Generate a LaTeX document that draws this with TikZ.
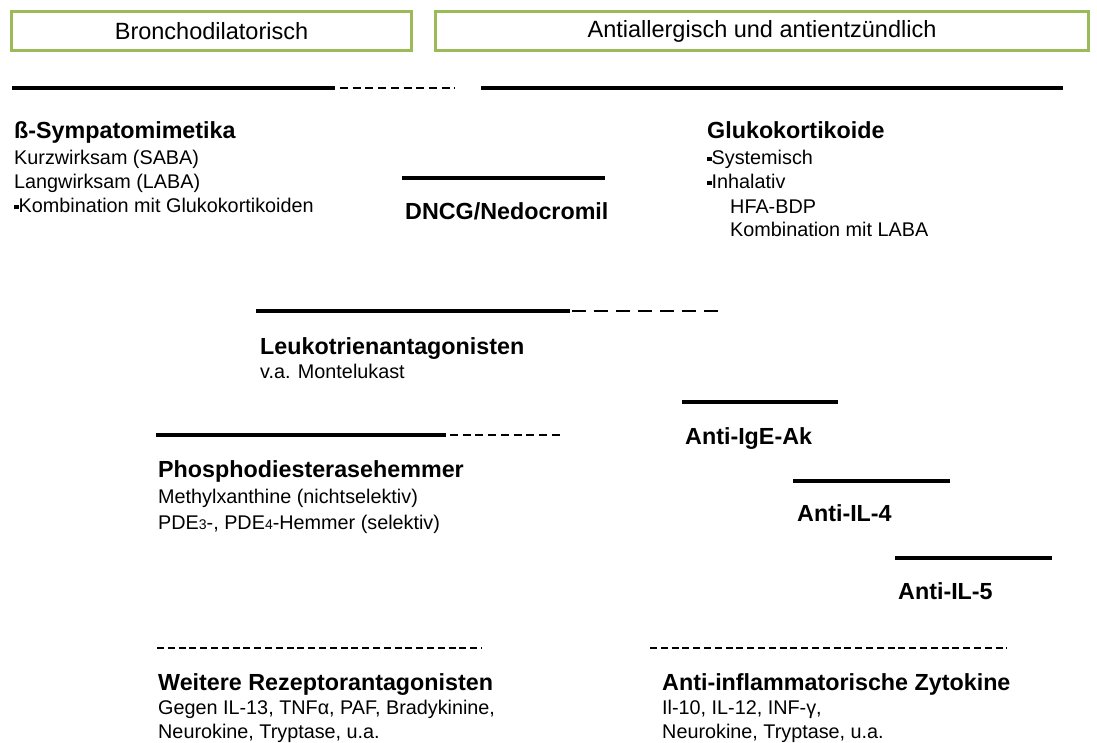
\documentclass[tikz,border=0pt]{standalone}
\usepackage{fontspec}
\setmainfont{Liberation Sans}
\definecolor{boxgreen}{HTML}{9BBB59}
\newcommand{\sqbullet}{\raisebox{3.5pt}{\rule{4.5pt}{4.5pt}}}
\newcommand{\smalldigit}[1]{{\fontsize{14}{14}\selectfont #1}}

\begin{document}
\begin{tikzpicture}[x=1pt,y=-1pt,
    group/.style={draw=boxgreen,line width=3pt,inner sep=0pt,font=\fontsize{23.5}{27}\selectfont},
    head/.style={anchor=base west,inner sep=0pt,font=\fontsize{23.3}{27}\selectfont\bfseries},
    info/.style={anchor=base west,inner sep=0pt,align=left,font=\fontsize{19.8}{24}\selectfont},
    bar/.style={line width=4.5pt},
    shortdash/.style={line width=1.5pt,dash pattern=on 8pt off 4.7pt},
    longdash/.style={line width=1.5pt,dash pattern=on 14pt off 8pt},
    hyphens/.style={line width=2.5pt,dash pattern=on 7pt off 3.8pt}]
\useasboundingbox (0,0) rectangle (1097,743);

% Kopfzeile
\node[group,minimum width=400pt,minimum height=39pt] (broncho) at (211.5,31) {Bronchodilatorisch};
\node[group,minimum width=653pt,minimum height=39pt] (antiall) at (762,31) {Antiallergisch und antientzündlich};

\draw[bar] (12,88) -- (335,88);
\draw[shortdash] (340,88) -- (455,88);
\draw[bar] (481,88) -- (1063,88);

% linke Spalte (info-Knoten: Basislinie der letzten Zeile)
\node[head] (beta) at (14,139) {ß-Sympatomimetika};
\node[info] (betainfo) at (14,213) {Kurzwirksam (SABA)\\Langwirksam (LABA)\\\sqbullet Kombination mit Glukokortikoiden};

\draw[bar] (402,178) -- (605,178);
\node[head] (dncg) at (405,220) {DNCG/Nedocromil};

\node[head] (gluko) at (707,139) {Glukokortikoide};
\node[info] (glukoinfo) at (707,237) {\sqbullet Systemisch\\\sqbullet Inhalativ\\\hspace*{23pt}HFA-BDP\\\hspace*{23pt}Kombination mit LABA};

\draw[bar] (256,311) -- (570,311);
\draw[longdash] (572,311) -- (725,311);
\node[head] (leuko) at (260,354) {Leukotrienantagonisten};
\node[info] (leukoinfo) at (260,378) {v.a. Montelukast};

\draw[bar] (682,402) -- (838,402);
\node[head] (ige) at (685,444) {Anti-IgE-Ak};

\draw[bar] (156,435) -- (446,435);
\draw[shortdash] (450,435) -- (560,435);
\node[head] (pde) at (158,477) {Phosphodiesterasehemmer};
\node[info] (pdeinfo) at (158,529) {Methylxanthine (nichtselektiv)\\[2pt]PDE\smalldigit{3}-, PDE\smalldigit{4}-Hemmer (selektiv)};

\draw[bar] (793,481) -- (950,481);
\node[head] (ilfour) at (797,521) {Anti-IL-4};

\draw[bar] (895,558) -- (1052,558);
\node[head] (ilfive) at (898,599) {Anti-IL-5};

% untere Zeile
\draw[hyphens] (157,648) -- (482,648);
\node[head] (rezeptor) at (158,690) {Weitere Rezeptorantagonisten};
\node[info] (rezeptorinfo) at (158,738) {Gegen IL-13, TNFα, PAF, Bradykinine,\\Neurokine, Tryptase, u.a.};

\draw[hyphens] (650,648) -- (1007,648);
\node[head] (zyto) at (662,690) {Anti-inflammatorische Zytokine};
\node[info] (zytoinfo) at (662,738) {Il-10, IL-12, INF-γ,\\Neurokine, Tryptase, u.a.};
\end{tikzpicture}
\end{document}
